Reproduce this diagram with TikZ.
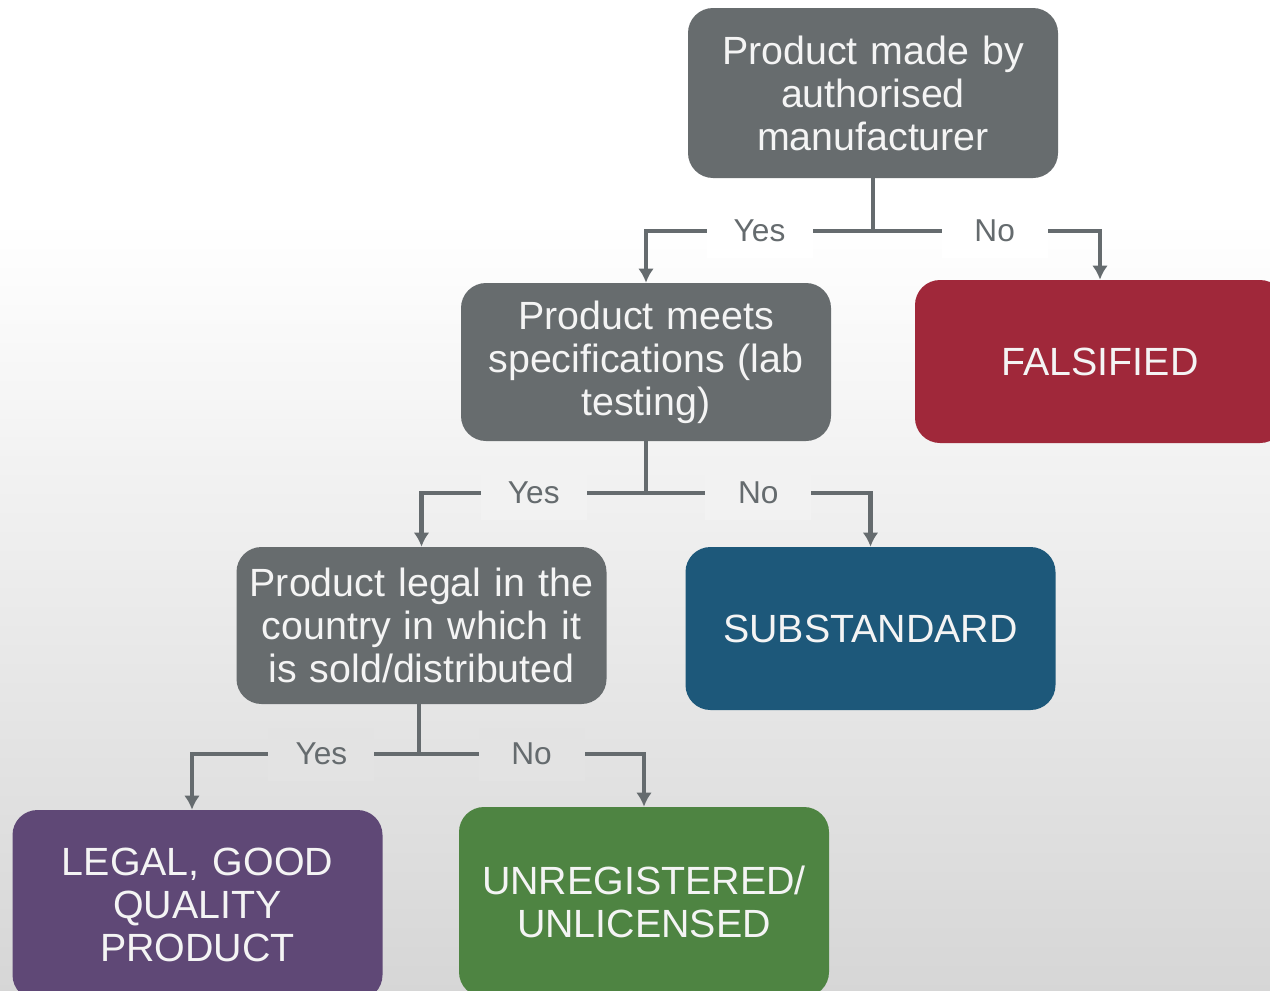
\documentclass[tikz,border=0pt]{standalone}
\usepackage{fontspec}
\setmainfont{Liberation Sans}
\usetikzlibrary{arrows.meta}

\definecolor{boxgray}{HTML}{676C6E}
\definecolor{linegray}{HTML}{656B6E}
\definecolor{falsred}{HTML}{A0283A}
\definecolor{subblue}{HTML}{1D587A}
\definecolor{legalpurple}{HTML}{5F4876}
\definecolor{unreggreen}{HTML}{4E8442}
\definecolor{boxtext}{HTML}{F4F4F4}

\begin{document}
\begin{tikzpicture}

		\tikzstyle{every node}=[font=\fontsize{22.4}{24.5}\selectfont]
		\tikzstyle{box}=[rectangle, rounded corners=0.5cm, minimum width=7.4cm, text width=7.0cm, align=center, text=boxtext]
		\tikzstyle{link}=[draw=linegray, line width=2.3pt]
		\tikzstyle{arr}=[link, -{Latex[length=8pt,width=9pt]}]
		\tikzstyle{answer}=[font=\fontsize{18}{20}\selectfont, text=linegray, minimum width=2.12cm, minimum height=1.06cm, inner sep=0pt]

		% background, white at the top and fading to grey
		\fill[white] (0,0) rectangle (25.4,-4.4);
		\shade[top color=white, bottom color=black!16] (0,-4.4) rectangle (25.4,-19.8);
		\useasboundingbox (0,0) rectangle (25.4,-19.8);

		% questions
		\node[box, fill=boxgray, minimum height=3.4cm] (made) at (17.46,-1.86) {Product made by\\authorised\\manufacturer};
		\node[box, fill=boxgray, minimum height=3.16cm] (meets) at (12.92,-7.24) {Product meets\\specifications (lab\\testing)};
		\node[box, fill=boxgray, minimum height=3.14cm] (legal) at (8.43,-12.51) {Product legal in the\\country in which it\\is sold/distributed};

		% outcomes
		\node[box, fill=falsred, minimum height=3.26cm] (fals) at (22.0,-7.23) {FALSIFIED};
		\node[box, fill=subblue, minimum height=3.26cm] (subst) at (17.41,-12.57) {SUBSTANDARD};
		\node[box, fill=legalpurple, minimum height=3.8cm] (good) at (3.95,-18.1) {LEGAL, GOOD\\QUALITY\\PRODUCT};
		\node[box, fill=unreggreen, minimum height=3.8cm] (unreg) at (12.88,-18.04) {UNREGISTERED/\\UNLICENSED};

		% branch points
		\coordinate (j1) at (17.46,-4.62);
		\coordinate (j2) at (12.92,-9.86);
		\coordinate (j3) at (8.38,-15.08);

		\draw[link] (made) -- (j1);
		\draw[arr] (j1) -| node[pos=0.25, answer, fill=white] {Yes} (meets.north);
		\draw[arr] (j1) -| node[pos=0.268, answer, fill=white] {No} (fals.north);

		\draw[link] (meets) -- (j2);
		\draw[arr] (j2) -| node[pos=0.25, answer, fill=black!5] {Yes} (legal.north);
		\draw[arr] (j2) -| node[pos=0.25, answer, fill=black!5] {No} (subst.north);

		\draw[link] (legal.south -| j3) -- (j3);
		\draw[arr] (j3) -| node[pos=0.215, answer, fill=black!11] {Yes} ([xshift=-0.11cm]good.north);
		\draw[arr] (j3) -| node[pos=0.25, answer, fill=black!11] {No} (unreg.north);

\end{tikzpicture}
\end{document}
